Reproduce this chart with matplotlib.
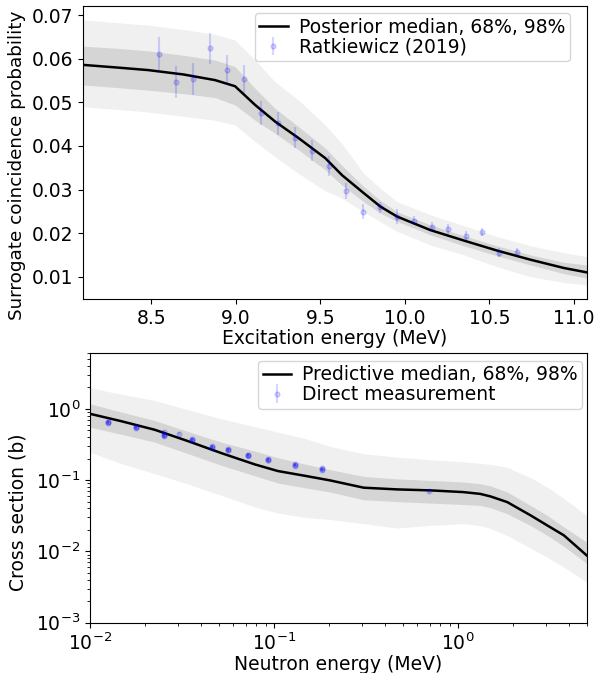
import matplotlib
matplotlib.use("Agg")
import matplotlib.pyplot as plt

plt.rcParams["font.size"] = 13.5

# --- top panel: surrogate coincidence probability ---
ex_energy = [8.094, 8.293, 8.481, 8.689, 8.877, 8.995, 9.114, 9.232, 9.371, 9.529,
             9.628, 9.756, 9.855, 9.954, 10.151, 10.349, 10.546, 10.744, 10.942, 11.077]
post_median = [0.0586, 0.0580, 0.0574, 0.0564, 0.0551, 0.0537, 0.0494, 0.0456, 0.0418, 0.0372,
               0.0333, 0.0292, 0.0261, 0.0238, 0.0207, 0.0183, 0.0160, 0.0139, 0.0120, 0.0110]
post_lo68 = [0.0540, 0.0534, 0.0528, 0.0520, 0.0511, 0.0494, 0.0459, 0.0429, 0.0391, 0.0345,
             0.0310, 0.0272, 0.0246, 0.0227, 0.0196, 0.0171, 0.0148, 0.0127, 0.0107, 0.0097]
post_hi68 = [0.0629, 0.0624, 0.0618, 0.0608, 0.0597, 0.0582, 0.0532, 0.0486, 0.0444, 0.0395,
             0.0355, 0.0307, 0.0275, 0.0249, 0.0219, 0.0194, 0.0171, 0.0150, 0.0133, 0.0127]
post_lo98 = [0.0490, 0.0484, 0.0478, 0.0468, 0.0459, 0.0448, 0.0410, 0.0375, 0.0337, 0.0297,
             0.0280, 0.0249, 0.0226, 0.0204, 0.0173, 0.0150, 0.0123, 0.0100, 0.0087, 0.0081]
post_hi98 = [0.0689, 0.0683, 0.0677, 0.0667, 0.0656, 0.0643, 0.0597, 0.0547, 0.0505, 0.0448,
             0.0405, 0.0337, 0.0303, 0.0272, 0.0242, 0.0217, 0.0192, 0.0171, 0.0155, 0.0146]

ratk_energy = [8.545, 8.645, 8.745, 8.846, 8.947, 9.048, 9.150, 9.248, 9.347, 9.450, 9.551,
               9.651, 9.753, 9.852, 9.955, 10.056, 10.158, 10.256, 10.359, 10.458, 10.558, 10.661]
ratk_prob = [0.0610, 0.0546, 0.0553, 0.0624, 0.0574, 0.0554, 0.0476, 0.0452, 0.0419, 0.0389, 0.0354,
             0.0297, 0.0249, 0.0259, 0.0238, 0.0229, 0.0215, 0.0210, 0.0194, 0.0203, 0.0155, 0.0157]
ratk_err = [0.0040, 0.0037, 0.0037, 0.0036, 0.0035, 0.0032, 0.0027, 0.0027, 0.0024, 0.0024, 0.0023,
            0.0019, 0.0017, 0.0013, 0.0017, 0.0010, 0.0010, 0.0012, 0.0010, 0.0010, 0.0010, 0.0010]

# --- bottom panel: cross section ---
n_energy = [0.010, 0.0148, 0.0225, 0.0341, 0.0518, 0.0787, 0.105, 0.147, 0.202, 0.307,
            0.466, 0.708, 1.07, 1.32, 1.50, 1.85, 2.48, 3.05, 3.76, 5.0]
pred_median = [0.851, 0.670, 0.508, 0.352, 0.239, 0.166, 0.134, 0.115, 0.099, 0.0783,
               0.0741, 0.0718, 0.0679, 0.0641, 0.0591, 0.0492, 0.0320, 0.0232, 0.0168, 0.0088]
pred_lo68 = [0.552, 0.44, 0.340, 0.235, 0.161, 0.115, 0.091, 0.078, 0.068, 0.053,
             0.050, 0.0476, 0.0455, 0.0442, 0.041, 0.0338, 0.0230, 0.0168, 0.0118, 0.0068]
pred_hi68 = [1.175, 0.90, 0.686, 0.48, 0.340, 0.255, 0.206, 0.168, 0.140, 0.1127,
             0.104, 0.099, 0.094, 0.089, 0.083, 0.068, 0.044, 0.032, 0.022, 0.0135]
pred_lo98 = [0.247, 0.17, 0.123, 0.088, 0.061, 0.042, 0.0345, 0.030, 0.028, 0.0245,
             0.0213, 0.0232, 0.0245, 0.023, 0.021, 0.0166, 0.0111, 0.0083, 0.0060, 0.0037]
pred_hi98 = [1.968, 1.6, 1.307, 0.97, 0.724, 0.56, 0.470, 0.384, 0.2965, 0.234,
             0.21, 0.193, 0.18, 0.172, 0.166, 0.151, 0.108, 0.080, 0.055, 0.032]

direct_energy = [0.0125, 0.0125, 0.0125, 0.0177, 0.0177, 0.0177, 0.0253, 0.0253, 0.0253, 0.0253,
                 0.0305, 0.0357, 0.0357, 0.0357, 0.0461, 0.0461, 0.0461, 0.0564, 0.0564, 0.0564,
                 0.0724, 0.0724, 0.0724, 0.093, 0.093, 0.093, 0.130, 0.130, 0.130,
                 0.183, 0.183, 0.183, 0.694]
direct_xs = [0.650, 0.640, 0.660, 0.552, 0.545, 0.560, 0.423, 0.430, 0.415, 0.471,
             0.447, 0.368, 0.362, 0.375, 0.296, 0.285, 0.300, 0.266, 0.262, 0.270,
             0.222, 0.218, 0.226, 0.193, 0.190, 0.196, 0.164, 0.160, 0.168,
             0.143, 0.140, 0.146, 0.0695]

band98 = "#f0f0f0"
band68 = "#d5d5d5"
pt_color = "blue"

fig = plt.figure(figsize=(6.11, 6.73), dpi=100)

ax1 = fig.add_axes([0.1354, 0.5557, 0.8253, 0.4354])
ax1.fill_between(ex_energy, post_lo98, post_hi98, color=band98, lw=0)
ax1.fill_between(ex_energy, post_lo68, post_hi68, color=band68, lw=0)
ax1.plot(ex_energy, post_median, color="black", lw=1.8, label="Posterior median, 68%, 98%")
ax1.errorbar(ratk_energy, ratk_prob, yerr=ratk_err, fmt="o", ms=3.5, color=pt_color,
             alpha=0.16, elinewidth=1.5, label="Ratkiewicz (2019)")
ax1.set_xlim(8.094, 11.077)
ax1.set_ylim(0.0049, 0.0721)
ax1.set_xticks([8.5, 9.0, 9.5, 10.0, 10.5, 11.0])
ax1.set_xlabel("Excitation energy (MeV)", labelpad=1)
ax1.set_ylabel("Surrogate coincidence probability", fontsize=13.2)
ax1.yaxis.set_label_coords(-0.112, 0.455)
ax1.legend(loc="upper right", bbox_to_anchor=(0.966, 0.976), borderaxespad=0,
           handlelength=1.5, borderpad=0.25, labelspacing=0.05, handletextpad=0.6)

ax2 = fig.add_axes([0.1473, 0.0747, 0.8129, 0.4003])
ax2.fill_between(n_energy, pred_lo98, pred_hi98, color=band98, lw=0)
ax2.fill_between(n_energy, pred_lo68, pred_hi68, color=band68, lw=0)
ax2.plot(n_energy, pred_median, color="black", lw=1.8, label="Predictive median, 68%, 98%")
ax2.errorbar(direct_energy, direct_xs, yerr=[v * 0.05 for v in direct_xs], fmt="o", ms=3.5,
             color=pt_color, alpha=0.16, elinewidth=1.5, label="Direct measurement")
ax2.set_xscale("log")
ax2.set_yscale("log")
ax2.set_xlim(0.01, 5.0)
ax2.set_ylim(1e-3, 6)
ax2.set_xlabel("Neutron energy (MeV)", labelpad=1)
ax2.set_ylabel("Cross section (b)")
ax2.yaxis.set_label_coords(-0.125, 0.41)
ax2.legend(loc="upper right", bbox_to_anchor=(0.991, 0.9725), borderaxespad=0,
           handlelength=1.5, borderpad=0.25, labelspacing=0.05, handletextpad=0.6)

fig.savefig("out.png", dpi=100)
